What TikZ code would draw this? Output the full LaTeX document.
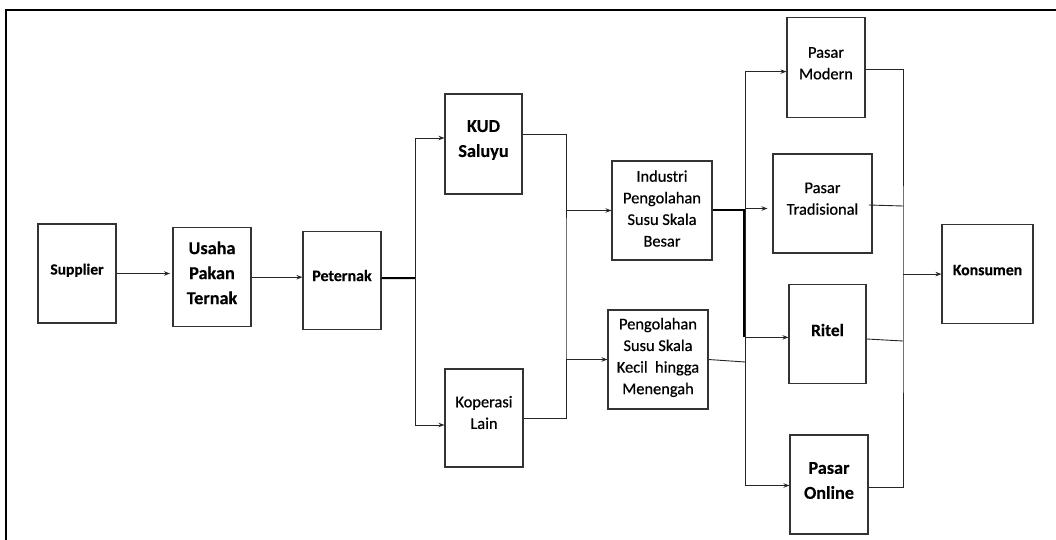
\documentclass[tikz,border=0pt]{standalone}
\usepackage{fontspec}
\setmainfont{Carlito}
\newfontfamily\semireg[FakeBold=0.6]{Carlito}
\newfontfamily\heavyb[FakeBold=0.3,UprightFont=*-Bold]{Carlito}
\usetikzlibrary{arrows.meta,calc}
\begin{document}
\begin{tikzpicture}[x=1bp,y=-1bp,
  bx/.style={draw=black!80, line width=1.1bp, inner sep=0pt},
  ln/.style={draw=black!85, line width=0.9bp},
  thk/.style={draw=black, line width=2bp},
  arr/.style={ln, -{Stealth[length=6bp,width=4.5bp]}},
  fsup/.style={font=\heavyb\fontsize{15.5bp}{19bp}\selectfont, align=center},
  fbig/.style={font=\heavyb\fontsize{18.2bp}{25bp}\selectfont, align=center},
  fpet/.style={font=\heavyb\fontsize{16bp}{20bp}\selectfont, align=center},
  freg/.style={font=\semireg\fontsize{16.4bp}{21.6bp}\selectfont, align=center},
  frit/.style={font=\heavyb\fontsize{17.3bp}{21bp}\selectfont, align=center},
  fkon/.style={font=\heavyb\fontsize{15.8bp}{20bp}\selectfont, align=center}
]
\useasboundingbox (0,0) rectangle (1056,540);
\begin{scope}
  \clip (0,0) rectangle (1056,540);
  \draw[line width=2.5bp] (6,10) rectangle (1080,570);
\end{scope}

% boxes
\node[bx, minimum width=78bp, minimum height=99bp, label={[fsup,yshift=3.2bp]center:Supplier}] (sup) at (77,273.5) {};
\node[bx, minimum width=78bp, minimum height=99bp, label={[fbig,yshift=4.4bp]center:Usaha\\Pakan\\Ternak}] (usa) at (212,277.2) {};
\node[bx, minimum width=78bp, minimum height=98bp, label={[fpet,yshift=4.7bp]center:Peternak}] (pet) at (342,280.2) {};
\node[bx, minimum width=77bp, minimum height=100bp, label={[fbig,yshift=4bp]center:KUD\\Saluyu}] (kud) at (483.5,144) {};
\node[bx, minimum width=78bp, minimum height=98bp, label={[freg,yshift=5.5bp]center:Koperasi\\Lain}] (kop) at (484,418) {};
\node[bx, minimum width=100bp, minimum height=99bp, label={[freg,yshift=2bp]center:Industri\\Pengolahan\\Susu Skala\\Besar}] (ind) at (662,210.5) {};
\node[bx, minimum width=100bp, minimum height=99bp, label={[freg,yshift=2bp]center:Pengolahan\\Susu Skala\\Kecil\ \ hingga\\Menengah}] (kec) at (658,359.5) {};
\node[bx, minimum width=78bp, minimum height=99.5bp, label={[freg,yshift=4.3bp]center:Pasar\\Modern}] (mod) at (826,67.6) {};
\node[bx, minimum width=99bp, minimum height=99bp, label={[freg,yshift=4.8bp]center:Pasar\\Tradisional}] (tra) at (822.5,203.5) {};
\node[bx, minimum width=77bp, minimum height=99bp, label={[frit,yshift=4.4bp]center:Ritel}] (rit) at (827.5,334.4) {};
\node[bx, minimum width=78bp, minimum height=99bp, label={[fbig,yshift=4bp]center:Pasar\\Online}] (onl) at (829,484.5) {};
\node[bx, minimum width=91bp, minimum height=99bp, label={[fkon,yshift=4bp]center:Konsumen}] (kon) at (987.5,274.1) {};

% left chain
\draw[arr, shorten >=2.5bp] (sup.east) -- (sup.east -| usa.west);
\draw[arr] (usa.east) -- (usa.east -| pet.west);

% split after Peternak
\coordinate (petO) at ([yshift=2bp]pet.east);
\coordinate (sp) at (415.5,278.2);
\coordinate (kudI) at ([yshift=6bp]kud.west);
\coordinate (kopI) at ([yshift=-7bp]kop.west);
\draw[thk] (petO) -- (sp);
\draw[arr] (sp) |- (kudI);
\draw[arr] (sp) |- (kopI);

% join of cooperatives
\coordinate (kudO) at ([yshift=10bp]kud.east);
\coordinate (j1) at (566,300);
\draw[ln] (kudO) -| (j1) |- (kop.east);
\draw[arr] (j1 |- ind.west) -- (ind.west);
\draw[arr] (j1 |- kec.west) -- (kec.west);

% distribution to markets
\coordinate (j2) at (745,300);
\coordinate (j2b) at (744,300);
\coordinate (modI) at ([yshift=-4bp]mod.west);
\coordinate (traI) at ([yshift=-5bp]tra.west);
\coordinate (ritI) at ([yshift=-3bp]rit.west);
\coordinate (onlI) at ([yshift=-1bp]onl.west);
\coordinate (kecJ) at (745,362);
\draw[thk] (ind.east) -- (j2 |- ind.east);
\draw[thk] (j2b |- ind.east) -- (j2b |- ritI);
\draw[ln] (j2 |- modI) -- (j2 |- onlI);
\draw[arr] (j2 |- modI) -- (modI);
\draw[arr, shorten >=5bp] (j2 |- traI) -- (traI);
\draw[arr] (j2 |- ritI) -- (ritI);
\draw[arr] (j2 |- onlI) -- (onlI);
\draw[ln] (kec.east) -- (kecJ);

% collection to consumers
\coordinate (j3) at (903,300);
\coordinate (modO) at ([yshift=-2bp]mod.east);
\coordinate (onlO) at ([yshift=-2.5bp]onl.east);
\coordinate (traO) at ([xshift=-4bp,yshift=-1.5bp]tra.east);
\coordinate (traJ) at (903,206);
\coordinate (ritO) at ([yshift=-4.6bp]rit.east);
\coordinate (ritJ) at (903,341);
\draw[ln] (modO) -| (j3) |- (onlO);
\draw[ln] (traO) -- (traJ);
\draw[ln] (ritO) -- (ritJ);
\draw[arr] (j3 |- kon.west) -- (kon.west);
\end{tikzpicture}
\end{document}
